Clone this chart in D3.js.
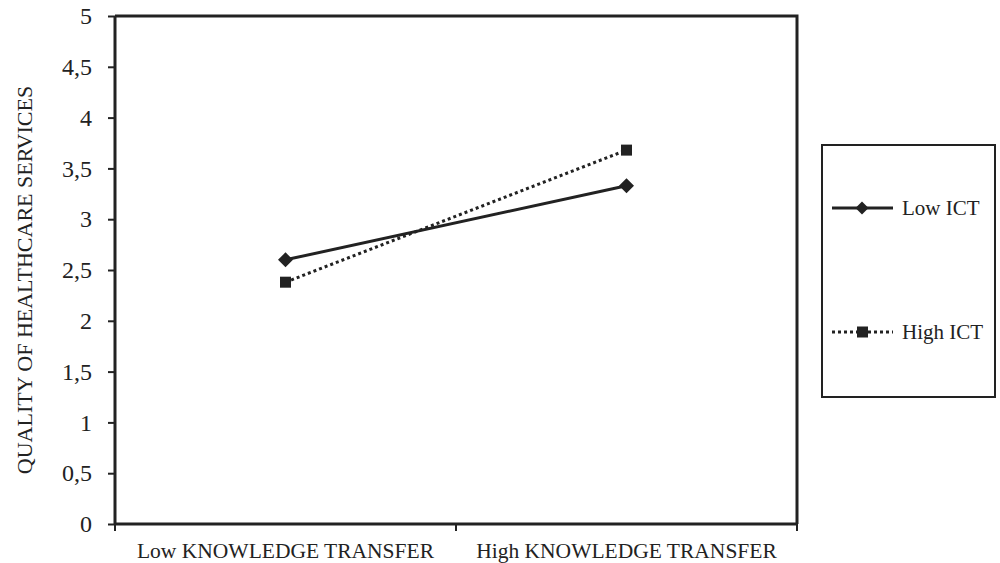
<!DOCTYPE html>
<html>
<head>
<meta charset="utf-8">
<script src="https://cdn.jsdelivr.net/npm/d3@7"></script>
<style>
  html, body { margin: 0; padding: 0; background: #fff; }
  svg text { font-family: "Liberation Serif", "Times New Roman", serif; fill: #222; }
</style>
</head>
<body>
<svg id="chart" width="1000" height="563"></svg>
<script>
// Interaction plot: knowledge transfer x ICT level
const categories = ["Low KNOWLEDGE TRANSFER", "High KNOWLEDGE TRANSFER"];
const seriesNames = ["Low ICT", "High ICT"];
const lowICT = [2.60, 3.33];
const highICT = [2.38, 3.68];
const yTicks = [0, 0.5, 1, 1.5, 2, 2.5, 3, 3.5, 4, 4.5, 5];
const yTitle = "QUALITY OF HEALTHCARE SERVICES";

const ink = "#222";
const svg = d3.select("#chart");
const plot = { left: 115, right: 797, top: 16, bottom: 524 };

const x = d3.scalePoint().domain(categories).range([plot.left, plot.right]).padding(0.5);
const y = d3.scaleLinear().domain([0, 5]).range([plot.bottom, plot.top]);

// frame: top and right borders
svg.append("path")
  .attr("d", `M${plot.left},${plot.top}H${plot.right}V${plot.bottom}`)
  .attr("fill", "none").attr("stroke", ink).attr("stroke-width", 3);

// y axis
const yAxis = svg.append("g").attr("transform", `translate(${plot.left},0)`)
  .call(d3.axisLeft(y).tickValues(yTicks).tickSize(7).tickPadding(16)
    .tickFormat(d => String(d).replace(".", ",")));
yAxis.select(".domain").attr("stroke", ink).attr("stroke-width", 3)
  .attr("d", `M0,${plot.top}V${plot.bottom}`);
yAxis.selectAll(".tick line").attr("stroke", ink).attr("stroke-width", 2);
yAxis.selectAll(".tick text").attr("font-size", 24).attr("fill", ink);

// x axis: ticks fall at the boundaries between categories
const xBounds = [plot.left, (plot.left + plot.right) / 2, plot.right];
const xAxisG = svg.append("g").attr("transform", `translate(0,${plot.bottom})`);
xAxisG.append("line").attr("x1", plot.left).attr("x2", plot.right)
  .attr("stroke", ink).attr("stroke-width", 3);
xAxisG.selectAll("line.tk").data(xBounds).join("line").attr("class", "tk")
  .attr("x1", d => d).attr("x2", d => d).attr("y1", 0).attr("y2", 7)
  .attr("stroke", ink).attr("stroke-width", 2);
xAxisG.selectAll("text").data(categories).join("text")
  .attr("x", d => x(d)).attr("y", 34)
  .attr("text-anchor", "middle").attr("font-size", 21.5).text(d => d);

// y title
svg.append("text")
  .attr("transform", `translate(32,280) rotate(-90)`)
  .attr("text-anchor", "middle").attr("font-size", 22).text(yTitle);

// series lines
const line = d3.line().x((d, i) => x(categories[i])).y(d => y(d));
svg.append("path").datum(lowICT).attr("d", line)
  .attr("fill", "none").attr("stroke", ink).attr("stroke-width", 3);
svg.append("path").datum(highICT).attr("d", line)
  .attr("fill", "none").attr("stroke", ink).attr("stroke-width", 3)
  .attr("stroke-dasharray", "3,3");

// markers
const diamond = s => `M0,${-s}L${s},0L0,${s}L${-s},0Z`;
svg.selectAll("path.dia").data(lowICT).join("path").attr("class", "dia")
  .attr("transform", (d, i) => `translate(${x(categories[i])},${y(d)})`)
  .attr("d", diamond(7.5)).attr("fill", ink);
svg.selectAll("rect.sq").data(highICT).join("rect").attr("class", "sq")
  .attr("x", (d, i) => x(categories[i]) - 5.5).attr("y", d => y(d) - 5.5)
  .attr("width", 11).attr("height", 11).attr("fill", ink);

// legend
const lg = svg.append("g");
lg.append("rect").attr("x", 822).attr("y", 145).attr("width", 173).attr("height", 252)
  .attr("fill", "none").attr("stroke", ink).attr("stroke-width", 2);
const rows = [
  { name: seriesNames[0], y: 208, dash: null, marker: "dia" },
  { name: seriesNames[1], y: 332, dash: "3,3", marker: "sq" }
];
rows.forEach(r => {
  lg.append("line").attr("x1", 832).attr("x2", 893).attr("y1", r.y).attr("y2", r.y)
    .attr("stroke", ink).attr("stroke-width", 3).attr("stroke-dasharray", r.dash);
  if (r.marker === "dia") {
    lg.append("path").attr("transform", `translate(862,${r.y})`).attr("d", diamond(6.5)).attr("fill", ink);
  } else {
    lg.append("rect").attr("x", 857).attr("y", r.y - 5.5).attr("width", 11).attr("height", 11).attr("fill", ink);
  }
  lg.append("text").attr("x", 902).attr("y", r.y + 7).attr("font-size", 21).text(r.name);
});
</script>
</body>
</html>
